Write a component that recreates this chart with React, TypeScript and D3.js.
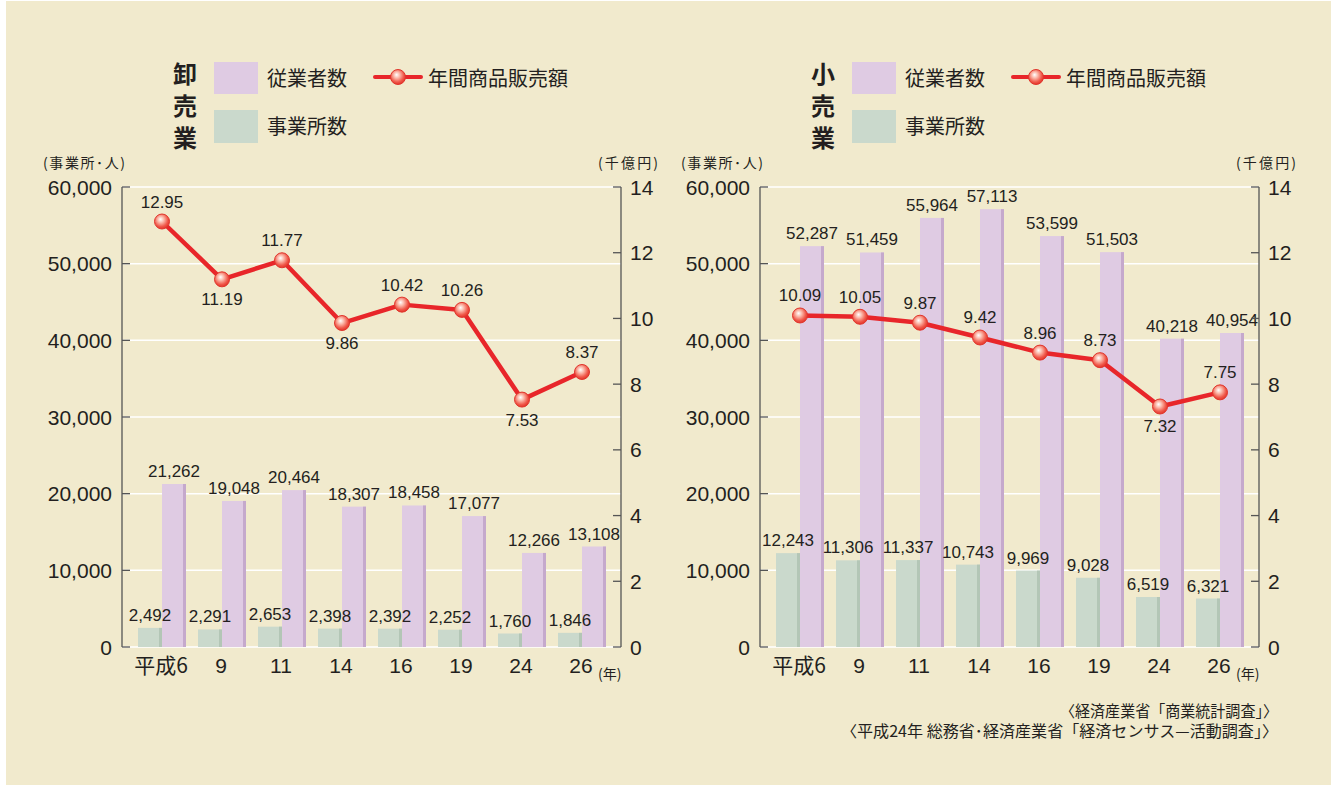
import * as d3 from 'd3';

const categories = ['平成6', '9', '11', '14', '16', '19', '24', '26'];

// 卸売業
const wholesaleEmployees = [21262, 19048, 20464, 18307, 18458, 17077, 12266, 13108];
const wholesaleOffices = [2492, 2291, 2653, 2398, 2392, 2252, 1760, 1846];
const wholesaleSales = [12.95, 11.19, 11.77, 9.86, 10.42, 10.26, 7.53, 8.37];
const wholesaleSalesBelow = [false, true, false, true, false, false, true, false];

// 小売業
const retailEmployees = [52287, 51459, 55964, 57113, 53599, 51503, 40218, 40954];
const retailOffices = [12243, 11306, 11337, 10743, 9969, 9028, 6519, 6321];
const retailSales = [10.09, 10.05, 9.87, 9.42, 8.96, 8.73, 7.32, 7.75];
const retailSalesBelow = [false, false, false, false, false, false, true, false];

const leftTicks = [0, 10000, 20000, 30000, 40000, 50000, 60000];
const rightTicks = [0, 2, 4, 6, 8, 10, 12, 14];

const sources = [
  '〈経済産業省「商業統計調査」〉',
  '〈平成24年 総務省･経済産業省「経済センサス—活動調査」〉',
];
const sourceWidths = [218, 437];

const NUM_FONT = '"Liberation Sans", Arial, "Noto Sans CJK JP", sans-serif';
const JP_FONT = '"Noto Sans CJK JP", "Liberation Sans", sans-serif';
const TEXT = '#231f20';
const EMP = '#dfcbe3';
const EMP_DARK = '#c5a9cc';
const OFF = '#cad9cc';
const OFF_DARK = '#b3c6b6';
const RED = '#e8262a';

const fmt = d3.format(',');

type ChartProps = {
  x0: number;
  title: string;
  employees: number[];
  offices: number[];
  sales: number[];
  below: boolean[];
};

const Marker = ({ cx, cy, r = 7.5 }: { cx: number; cy: number; r?: number }) => (
  <circle cx={cx} cy={cy} r={r} fill="url(#ball)" stroke="#e0362c" strokeWidth={1} />
);

const Chart = ({ x0, title, employees, offices, sales, below }: ChartProps) => {
  const top = 187;
  const bottom = 647;
  const x1 = x0 + 499;
  const x = d3.scalePoint<string>().domain(categories).range([x0 + 40, x0 + 460]);
  const y = d3.scaleLinear().domain([0, 60000]).range([bottom, top]);
  const y2 = d3.scaleLinear().domain([0, 14]).range([bottom, top]);
  const bw = 24;
  const strip = 3;

  const line = d3
    .line<number>()
    .x((_, i) => x(categories[i])!)
    .y((d) => y2(d));

  const lx = x0 + 52; // legend left

  return (
    <g>
      {/* title (vertical) */}
      <text
        textAnchor="middle"
        fontSize={24}
        fontWeight="bold"
        fontFamily={JP_FONT}
        fill={TEXT}
      >
        {title.split('').map((c, i) => (
          <tspan key={c + i} x={x0 + 63} y={83 + i * 32}>
            {c}
          </tspan>
        ))}
      </text>

      {/* legend */}
      <rect x={lx + 40} y={62} width={44} height={32} fill={EMP} />
      <rect x={lx + 40} y={110} width={44} height={33} fill={OFF} />
      <text x={lx + 93} y={86} fontSize={20} fontFamily={JP_FONT} fill={TEXT}>
        従業者数
      </text>
      <text x={lx + 93} y={134} fontSize={20} fontFamily={JP_FONT} fill={TEXT}>
        事業所数
      </text>
      <line x1={lx + 201} x2={lx + 247} y1={77} y2={77} stroke={RED} strokeWidth={4} strokeLinecap="round" />
      <Marker cx={lx + 224} cy={77} />
      <text x={lx + 254} y={86} fontSize={20} fontFamily={JP_FONT} fill={TEXT}>
        年間商品販売額
      </text>

      {/* axis titles */}
      <text
        x={x0 - 79}
        y={168}
        fontSize={14}
        fontFamily={JP_FONT}
        fill={TEXT}
        textLength={82}
        lengthAdjust="spacing"
      >
        (事業所･人)
      </text>
      <text
        x={x1 - 23}
        y={168}
        fontSize={14}
        fontFamily={JP_FONT}
        fill={TEXT}
        textLength={60}
        lengthAdjust="spacing"
      >
        (千億円)
      </text>

      {/* gridlines */}
      {leftTicks.map((t) => (
        <line key={'g' + t} x1={x0} x2={x1} y1={y(t)} y2={y(t)} stroke="#ffffff" strokeWidth={1.5} />
      ))}

      {/* bars */}
      {categories.map((c, i) => {
        const cx = x(c)!;
        const eTop = y(employees[i]);
        const oTop = y(offices[i]);
        return (
          <g key={'b' + c}>
            <rect x={cx - bw} y={oTop} width={bw} height={bottom - oTop} fill={OFF} />
            <rect x={cx - strip} y={oTop} width={strip} height={bottom - oTop} fill={OFF_DARK} />
            <rect x={cx} y={eTop} width={bw} height={bottom - eTop} fill={EMP} />
            <rect x={cx + bw - strip} y={eTop} width={strip} height={bottom - eTop} fill={EMP_DARK} />
            <text
              x={cx - bw / 2}
              y={oTop - 7}
              textAnchor="middle"
              fontSize={17}
              fontFamily={NUM_FONT}
              fill={TEXT}
            >
              {fmt(offices[i])}
            </text>
            <text
              x={cx + bw / 2}
              y={eTop - 7}
              textAnchor="middle"
              fontSize={17}
              fontFamily={NUM_FONT}
              fill={TEXT}
            >
              {fmt(employees[i])}
            </text>
          </g>
        );
      })}

      {/* axes */}
      <line x1={x0} x2={x0} y1={top} y2={bottom} stroke="#555" strokeWidth={1.3} />
      <line x1={x1} x2={x1} y1={top} y2={bottom} stroke="#555" strokeWidth={1.3} />
      {leftTicks.map((t) => (
        <g key={'lt' + t}>
          <line x1={x0} x2={x0 + 8} y1={y(t)} y2={y(t)} stroke="#555" strokeWidth={1.3} />
          <text
            x={x0 - 10}
            y={y(t) + 7.5}
            textAnchor="end"
            fontSize={21}
            fontFamily={NUM_FONT}
            fill={TEXT}
          >
            {fmt(t)}
          </text>
        </g>
      ))}
      {rightTicks.map((t) => (
        <g key={'rt' + t}>
          <line x1={x1 - 8} x2={x1} y1={y2(t)} y2={y2(t)} stroke="#555" strokeWidth={1.3} />
          <text x={x1 + 9} y={y2(t) + 7.5} fontSize={21} fontFamily={NUM_FONT} fill={TEXT}>
            {t}
          </text>
        </g>
      ))}

      {/* x labels */}
      {categories.map((c) => (
        <text
          key={'x' + c}
          x={x(c)! - 1}
          y={673}
          textAnchor="middle"
          fontSize={21}
          fontFamily={c.length > 2 ? JP_FONT : NUM_FONT}
          fill={TEXT}
        >
          {c}
        </text>
      ))}
      <text x={x1 - 23} y={679} fontSize={14} fontFamily={JP_FONT} fill={TEXT}>
        (年)
      </text>

      {/* sales line */}
      <path d={line(sales) ?? ''} fill="none" stroke={RED} strokeWidth={4.5} strokeLinejoin="round" />
      {sales.map((v, i) => {
        const cx = x(categories[i])!;
        const cy = y2(v);
        return (
          <g key={'p' + i}>
            <Marker cx={cx} cy={cy} />
            <text
              x={cx}
              y={below[i] ? cy + 26 : cy - 14}
              textAnchor="middle"
              fontSize={17}
              fontFamily={NUM_FONT}
              fill={TEXT}
            >
              {v.toFixed(2)}
            </text>
          </g>
        );
      })}
    </g>
  );
};

export default function App() {
  return (
    <svg
      width={1331}
      height={785}
      style={{ position: 'absolute', left: 0, top: 0, display: 'block' }}
    >
      <defs>
        <radialGradient id="ball" cx="0.45" cy="0.4" r="0.6" fx="0.4" fy="0.35">
          <stop offset="0%" stopColor="#ffffff" />
          <stop offset="35%" stopColor="#fbb7a8" />
          <stop offset="75%" stopColor="#f0584a" />
          <stop offset="100%" stopColor="#e3342a" />
        </radialGradient>
      </defs>
      <rect x={0} y={0} width={1331} height={785} fill="#ffffff" />
      <rect x={6} y={1} width={1325} height={784} fill="#f1eacd" />
      <Chart
        x0={122}
        title="卸売業"
        employees={wholesaleEmployees}
        offices={wholesaleOffices}
        sales={wholesaleSales}
        below={wholesaleSalesBelow}
      />
      <Chart
        x0={760}
        title="小売業"
        employees={retailEmployees}
        offices={retailOffices}
        sales={retailSales}
        below={retailSalesBelow}
      />
      {sources.map((s, i) => (
        <text
          key={s}
          x={1278 - sourceWidths[i]}
          y={717 + i * 20}
          fontSize={15.5}
          fontFamily={JP_FONT}
          fill={TEXT}
          textLength={sourceWidths[i]}
          lengthAdjust="spacingAndGlyphs"
        >
          {s}
        </text>
      ))}
    </svg>
  );
}
